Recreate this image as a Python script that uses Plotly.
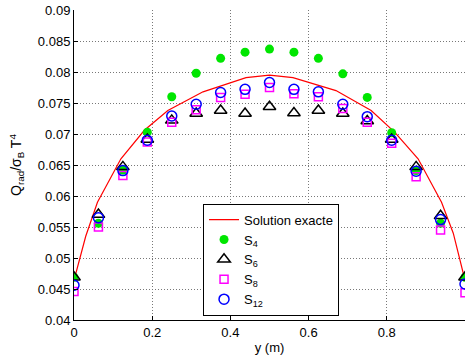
import plotly.graph_objects as go

# Exact solution (piecewise-linear curve)
exact_x = [0.0, 0.03, 0.06, 0.12, 0.18, 0.24, 0.33, 0.44, 0.5, 0.56, 0.67, 0.76, 0.82, 0.88, 0.94, 0.97, 1.0]
exact_y = [0.0464, 0.0535, 0.0590, 0.0660, 0.0706, 0.0738, 0.0768, 0.0791, 0.0795,
           0.0791, 0.0770, 0.0738, 0.0703, 0.0660, 0.0590, 0.0540, 0.0464]

# Discrete-ordinate solutions at y = k/16
pos = [k / 16 for k in range(17)]
s4 = [0.0469, 0.0556, 0.0642, 0.0703, 0.0760, 0.0798, 0.0822, 0.0832, 0.0837,
      0.0832, 0.0822, 0.0797, 0.0759, 0.0702, 0.0641, 0.0556, 0.0469]
s6 = [0.0469, 0.0570, 0.0647, 0.0691, 0.0722, 0.0733, 0.0738, 0.0733, 0.0744,
      0.0734, 0.0738, 0.0733, 0.0721, 0.0691, 0.0647, 0.0568, 0.0469]
s8 = [0.0446, 0.0550, 0.0633, 0.0687, 0.0719, 0.0739, 0.0759, 0.0764, 0.0775,
      0.0765, 0.0760, 0.0741, 0.0719, 0.0685, 0.0631, 0.0545, 0.0444]
s12 = [0.0456, 0.0565, 0.0641, 0.0690, 0.0729, 0.0748, 0.0767, 0.0772, 0.0783,
       0.0772, 0.0768, 0.0748, 0.0728, 0.0690, 0.0640, 0.0562, 0.0458]

x_ticks = [0, 0.2, 0.4, 0.6, 0.8, 1]
x_tick_text = ["0", "0.2", "0.4", "0.6", "0.8", "1"]
y_ticks = [0.04, 0.045, 0.05, 0.055, 0.06, 0.065, 0.07, 0.075, 0.08, 0.085, 0.09]
y_tick_text = ["0.04", "0.045", "0.05", "0.055", "0.06", "0.065", "0.07", "0.075", "0.08", "0.085", "0.09"]

FONT = "Liberation Sans, Arial, Helvetica, sans-serif"
GRID = "rgb(120,120,120)"

fig = go.Figure()
fig.add_trace(go.Scatter(x=exact_x, y=exact_y, mode="lines", name="Solution exacte",
                         line=dict(color="#ff0000", width=1.2)))
fig.add_trace(go.Scatter(x=pos, y=s4, mode="markers", name="S<sub>4</sub>",
                         marker=dict(symbol="circle", size=9, color="#00e600", line=dict(width=0))))
fig.add_trace(go.Scatter(x=pos, y=s6, mode="markers", name="S<sub>6</sub>",
                         marker=dict(symbol="triangle-up-open", size=11, color="black", line=dict(width=1.5))))
fig.add_trace(go.Scatter(x=pos, y=s8, mode="markers", name="S<sub>8</sub>",
                         marker=dict(symbol="square-open", size=8, color="#ff00ff", line=dict(width=1.5))))
fig.add_trace(go.Scatter(x=pos, y=s12, mode="markers", name="S<sub>12</sub>",
                         marker=dict(symbol="circle-open", size=10, color="#0000ff", line=dict(width=1.5))))

fig.update_layout(
    width=468, height=358,
    margin=dict(l=74, r=3, t=10, b=38),
    paper_bgcolor="white", plot_bgcolor="white",
    font=dict(family=FONT, size=13, color="black"),
    showlegend=True,
    legend=dict(x=0.33, y=0.3755, xanchor="left", yanchor="top",
                bgcolor="white", bordercolor="black", borderwidth=1,
                font=dict(size=13), tracegroupgap=0, itemwidth=30),
)
fig.update_xaxes(range=[0, 1], tickvals=x_ticks, ticktext=x_tick_text,
                 showline=True, linecolor="black", linewidth=1, mirror=False,
                 ticks="inside", ticklen=4, tickcolor="black",
                 showgrid=True, gridcolor=GRID, griddash="1px,2px", gridwidth=1,
                 zeroline=False, title=dict(text="y (m)", standoff=4, font=dict(size=13)),
                 automargin=False)
fig.update_yaxes(range=[0.04, 0.09], tickvals=y_ticks, ticktext=y_tick_text,
                 showline=True, linecolor="black", linewidth=1, mirror=False,
                 ticks="inside", ticklen=4, tickcolor="black",
                 showgrid=True, gridcolor=GRID, griddash="1px,2px", gridwidth=1,
                 zeroline=False,
                 title=dict(text="Q<sub>rad</sub>/σ<sub>B</sub> T<sup>4</sup>", standoff=12, font=dict(size=14)),
                 automargin=False)

fig.write_html("out.html", config={"displayModeBar": False},
               post_script="document.body.style.margin='0';document.body.style.padding='0';")
